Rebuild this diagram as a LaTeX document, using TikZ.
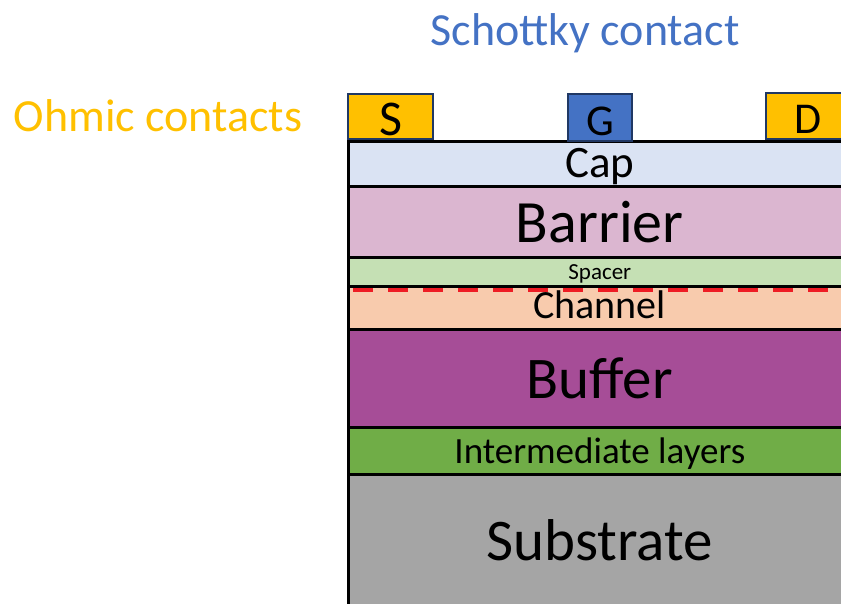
\documentclass[tikz,border=0pt]{standalone}
\usepackage{fontspec}
\setmainfont{Carlito}
\definecolor{ohmic}{HTML}{FFC000}
\definecolor{schottky}{HTML}{4472C4}
\definecolor{navy}{HTML}{203864}
\definecolor{capc}{HTML}{DAE3F3}
\definecolor{barc}{HTML}{DBB6D0}
\definecolor{spc}{HTML}{C5E0B4}
\definecolor{chc}{HTML}{F8CBAD}
\definecolor{bufc}{HTML}{A64D97}
\definecolor{intc}{HTML}{70AD47}
\definecolor{subc}{HTML}{A5A5A5}
\definecolor{dashred}{HTML}{EE1C24}
\newcommand{\fs}[1]{\fontsize{#1}{#1}\selectfont}
\tikzset{
  layer/.style={draw=black, line width=2.6pt, anchor=north west, inner sep=0pt,
    minimum width=503pt},
  contact/.style={draw=navy, line width=2pt, anchor=north west, inner sep=0pt},
  lbl/.style={inner sep=0pt, text=black},
}
\begin{document}
\begin{tikzpicture}[x=1pt,y=-1pt]
\useasboundingbox (0,0) rectangle (841,603);
\clip (0,0) rectangle (841,603);
\node[layer, fill=capc, minimum height=45pt] (cap) at (347,140) {};
\node[layer, fill=barc, minimum height=71pt] (bar) at (347,185) {};
\node[layer, fill=spc, minimum height=29pt] (spa) at (347,256) {};
\node[layer, fill=chc, minimum height=43pt] (cha) at (347,285) {};
\node[layer, fill=bufc, minimum height=98pt] (buf) at (347,328) {};
\node[layer, fill=intc, minimum height=47pt] (int) at (347,426) {};
\node[layer, fill=subc, minimum height=135pt] (sub) at (347,473) {};
\node[lbl] (capt) at ([yshift=-3pt]cap.center) {\fs{45}Cap};
\node[lbl] (bart) at (bar.center) {\fs{60}Barrier};
\node[lbl] (spat) at ([yshift=-2pt]spa.center) {\fs{23}Spacer};
\node[lbl] (chat) at ([yshift=3pt]cha.center) {\fs{40}Channel};
\node[lbl] (buft) at (buf.center) {\fs{59}Buffer};
\node[lbl] (intt) at ([yshift=-3pt]int.center) {\fs{37}Intermediate layers};
\node[lbl] (subt) at ([yshift=2pt]sub.center) {\fs{59}Substrate};
\coordinate (dl) at (353,289.5);
\coordinate (dr) at (841,289.5);
\draw[dashred, line width=4pt, dash pattern=on 20pt off 15pt] (dl) -- (dr);
\node[contact, fill=ohmic, minimum width=85pt, minimum height=45pt] (S) at (347,93) {};
\node[contact, fill=schottky, minimum width=64pt, minimum height=47pt] (G) at (567,93) {};
\node[contact, fill=ohmic, minimum width=85pt, minimum height=46pt] (D) at (765,92) {};
\node[lbl] (St) at ([yshift=-3pt]S.center) {\fs{50}S};
\node[lbl] (Gt) at ([yshift=-4pt]G.center) {\fs{44}G};
\node[lbl] (Dt) at ([yshift=-3pt]D.center) {\fs{44}D};
\node[text=schottky] (sl) at (585,33) {\fs{46}Schottky contact};
\node[text=ohmic] (ol) at (158,116) {\fs{46}Ohmic contacts};
\end{tikzpicture}
\end{document}
